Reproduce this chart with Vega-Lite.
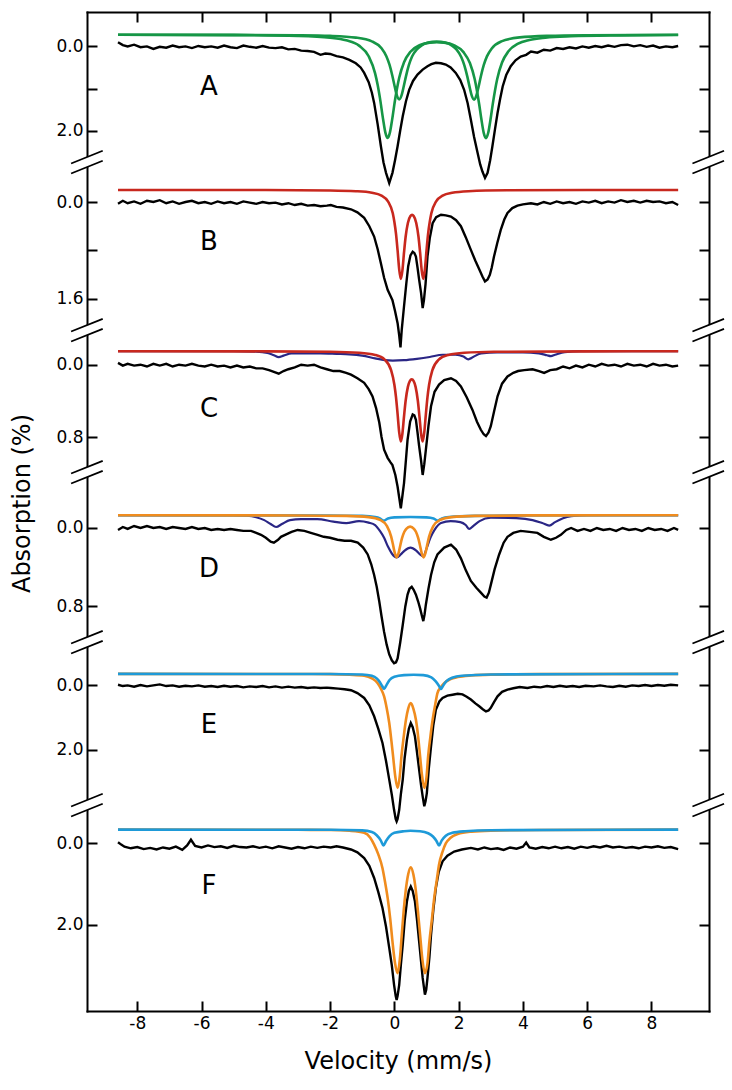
{
"$schema": "https://vega.github.io/schema/vega-lite/v6.json",
"background": "white",
"padding": {"left": 9, "top": 11, "right": 5, "bottom": 5},
"bounds": "flush",
"spacing": 0,
"config": {
  "view": {"stroke": null},
  "font": "DejaVu Sans",
  "axis": {"tickSize": -10, "tickWidth": 2, "domainWidth": 2, "domainColor": "#000", "tickColor": "#000", "domainCap": "square", "labelFont": "DejaVu Sans", "labelFontSize": 17, "labelColor": "#000", "labelPadding": 14, "titleFont": "DejaVu Sans", "titleFontSize": 24, "titleFontWeight": "normal", "titleColor": "#000", "grid": false, "labelFlush": false, "labelOverlap": false}
},
"datasets": {
"Ad": [{"v":-8.6,"a":-0.1},{"v":-8.45,"a":-0.03},{"v":-8.3,"a":0.0},{"v":-8.1,"a":-0.04},{"v":-7.9,"a":0.02},{"v":-7.7,"a":0.0},{"v":-7.5,"a":0.06},{"v":-7.3,"a":0.01},{"v":-7.1,"a":0.03},{"v":-6.9,"a":-0.02},{"v":-6.7,"a":0.02},{"v":-6.5,"a":0.0},{"v":-6.3,"a":0.04},{"v":-6.1,"a":-0.01},{"v":-5.9,"a":0.02},{"v":-5.7,"a":0.0},{"v":-5.5,"a":0.03},{"v":-5.3,"a":-0.02},{"v":-5.1,"a":0.02},{"v":-4.9,"a":0.04},{"v":-4.7,"a":-0.02},{"v":-4.5,"a":0.01},{"v":-4.3,"a":0.03},{"v":-4.1,"a":-0.01},{"v":-3.9,"a":0.03},{"v":-3.7,"a":0.04},{"v":-3.5,"a":0.02},{"v":-3.3,"a":0.07},{"v":-3.1,"a":0.06},{"v":-2.9,"a":0.1},{"v":-2.7,"a":0.11},{"v":-2.5,"a":0.13},{"v":-2.3,"a":0.2},{"v":-2.15,"a":0.17},{"v":-2.0,"a":0.18},{"v":-1.8,"a":0.23},{"v":-1.6,"a":0.26},{"v":-1.4,"a":0.32},{"v":-1.2,"a":0.4},{"v":-1.05,"a":0.5},{"v":-0.94,"a":0.63},{"v":-0.8,"a":0.85},{"v":-0.7,"a":1.1},{"v":-0.63,"a":1.34},{"v":-0.52,"a":1.85},{"v":-0.42,"a":2.37},{"v":-0.34,"a":2.75},{"v":-0.26,"a":3.0},{"v":-0.16,"a":3.24},{"v":-0.06,"a":3.0},{"v":0.02,"a":2.7},{"v":0.1,"a":2.37},{"v":0.18,"a":2.0},{"v":0.26,"a":1.66},{"v":0.36,"a":1.3},{"v":0.46,"a":1.03},{"v":0.58,"a":0.82},{"v":0.72,"a":0.67},{"v":0.88,"a":0.55},{"v":1.03,"a":0.47},{"v":1.15,"a":0.42},{"v":1.29,"a":0.39},{"v":1.45,"a":0.4},{"v":1.6,"a":0.43},{"v":1.75,"a":0.5},{"v":1.91,"a":0.63},{"v":2.05,"a":0.8},{"v":2.17,"a":1.03},{"v":2.28,"a":1.35},{"v":2.38,"a":1.74},{"v":2.48,"a":2.15},{"v":2.59,"a":2.53},{"v":2.67,"a":2.8},{"v":2.74,"a":2.97},{"v":2.82,"a":3.12},{"v":2.9,"a":3.0},{"v":2.98,"a":2.7},{"v":3.05,"a":2.37},{"v":3.13,"a":1.97},{"v":3.21,"a":1.58},{"v":3.29,"a":1.25},{"v":3.37,"a":0.95},{"v":3.48,"a":0.68},{"v":3.62,"a":0.47},{"v":3.77,"a":0.33},{"v":3.93,"a":0.24},{"v":4.1,"a":0.2},{"v":4.25,"a":0.12},{"v":4.45,"a":0.15},{"v":4.65,"a":0.08},{"v":4.85,"a":0.1},{"v":5.05,"a":0.04},{"v":5.25,"a":0.06},{"v":5.45,"a":0.02},{"v":5.65,"a":0.05},{"v":5.85,"a":0.0},{"v":6.05,"a":0.03},{"v":6.25,"a":-0.01},{"v":6.45,"a":0.02},{"v":6.65,"a":-0.02},{"v":6.85,"a":0.01},{"v":7.05,"a":-0.03},{"v":7.25,"a":-0.04},{"v":7.45,"a":0.0},{"v":7.65,"a":-0.03},{"v":7.85,"a":0.01},{"v":8.05,"a":-0.02},{"v":8.25,"a":0.03},{"v":8.45,"a":0.0},{"v":8.65,"a":0.02},{"v":8.83,"a":-0.01}],
"Ag1": [{"v":-8.6,"a":-0.275},{"v":-5,"a":-0.267},{"v":-3,"a":-0.246},{"v":-2,"a":-0.205},{"v":-1.5,"a":-0.144},{"v":-1.1,"a":-0.018},{"v":-0.8,"a":0.235},{"v":-0.6,"a":0.641},{"v":-0.52,"a":0.915},{"v":-0.45,"a":1.222},{"v":-0.35,"a":1.735},{"v":-0.28,"a":2.046},{"v":-0.21,"a":2.172},{"v":-0.14,"a":2.047},{"v":-0.07,"a":1.738},{"v":0.03,"a":1.226},{"v":0.15,"a":0.742},{"v":0.3,"a":0.374},{"v":0.5,"a":0.127},{"v":0.8,"a":-0.032},{"v":1.1,"a":-0.09},{"v":1.32,"a":-0.1},{"v":1.55,"a":-0.089},{"v":1.85,"a":-0.03},{"v":2.15,"a":0.136},{"v":2.35,"a":0.396},{"v":2.5,"a":0.779},{"v":2.64,"a":1.379},{"v":2.71,"a":1.742},{"v":2.78,"a":2.051},{"v":2.85,"a":2.176},{"v":2.92,"a":2.05},{"v":2.99,"a":1.74},{"v":3.06,"a":1.375},{"v":3.2,"a":0.772},{"v":3.35,"a":0.384},{"v":3.55,"a":0.116},{"v":3.85,"a":-0.064},{"v":4.2,"a":-0.152},{"v":4.7,"a":-0.207},{"v":5.5,"a":-0.24},{"v":7,"a":-0.261},{"v":8.83,"a":-0.27}],
"Ag2": [{"v":-8.6,"a":-0.277},{"v":-5,"a":-0.273},{"v":-3,"a":-0.264},{"v":-2,"a":-0.249},{"v":-1.2,"a":-0.208},{"v":-0.7,"a":-0.12},{"v":-0.4,"a":0.045},{"v":-0.25,"a":0.233},{"v":-0.15,"a":0.441},{"v":-0.06,"a":0.707},{"v":0.01,"a":0.951},{"v":0.08,"a":1.167},{"v":0.15,"a":1.256},{"v":0.22,"a":1.168},{"v":0.29,"a":0.953},{"v":0.36,"a":0.711},{"v":0.45,"a":0.447},{"v":0.55,"a":0.241},{"v":0.7,"a":0.07},{"v":0.85,"a":-0.026},{"v":1.05,"a":-0.09},{"v":1.315,"a":-0.114},{"v":1.58,"a":-0.09},{"v":1.78,"a":-0.026},{"v":1.93,"a":0.07},{"v":2.08,"a":0.25},{"v":2.18,"a":0.455},{"v":2.27,"a":0.718},{"v":2.34,"a":0.96},{"v":2.41,"a":1.174},{"v":2.48,"a":1.262},{"v":2.55,"a":1.172},{"v":2.62,"a":0.956},{"v":2.69,"a":0.713},{"v":2.78,"a":0.446},{"v":2.88,"a":0.237},{"v":3.03,"a":0.048},{"v":3.33,"a":-0.119},{"v":3.9,"a":-0.214},{"v":4.8,"a":-0.252},{"v":6,"a":-0.266},{"v":8.83,"a":-0.275}],
"Bd": [{"v":-8.6,"a":0.03},{"v":-8.45,"a":-0.02},{"v":-8.3,"a":0.02},{"v":-8.1,"a":-0.01},{"v":-7.9,"a":0.03},{"v":-7.7,"a":-0.02},{"v":-7.5,"a":0.0},{"v":-7.3,"a":-0.03},{"v":-7.1,"a":0.02},{"v":-6.9,"a":-0.01},{"v":-6.7,"a":0.03},{"v":-6.5,"a":0.0},{"v":-6.3,"a":-0.02},{"v":-6.1,"a":0.02},{"v":-5.9,"a":0.0},{"v":-5.7,"a":0.03},{"v":-5.5,"a":-0.01},{"v":-5.3,"a":0.02},{"v":-5.1,"a":0.0},{"v":-4.9,"a":0.03},{"v":-4.7,"a":-0.01},{"v":-4.5,"a":0.01},{"v":-4.3,"a":0.03},{"v":-4.1,"a":0.0},{"v":-3.9,"a":0.02},{"v":-3.7,"a":0.01},{"v":-3.5,"a":0.04},{"v":-3.3,"a":0.02},{"v":-3.1,"a":0.05},{"v":-2.9,"a":0.03},{"v":-2.7,"a":0.06},{"v":-2.5,"a":0.05},{"v":-2.3,"a":0.07},{"v":-2.1,"a":0.06},{"v":-1.98,"a":0.05},{"v":-1.8,"a":0.08},{"v":-1.6,"a":0.09},{"v":-1.35,"a":0.12},{"v":-1.15,"a":0.17},{"v":-0.94,"a":0.26},{"v":-0.78,"a":0.4},{"v":-0.63,"a":0.57},{"v":-0.52,"a":0.78},{"v":-0.42,"a":1.01},{"v":-0.32,"a":1.25},{"v":-0.21,"a":1.45},{"v":-0.12,"a":1.55},{"v":-0.06,"a":1.62},{"v":0.02,"a":1.8},{"v":0.1,"a":2.0},{"v":0.15,"a":2.2},{"v":0.19,"a":2.4},{"v":0.23,"a":2.1},{"v":0.3,"a":1.72},{"v":0.37,"a":1.35},{"v":0.43,"a":1.06},{"v":0.5,"a":0.88},{"v":0.57,"a":0.82},{"v":0.62,"a":0.84},{"v":0.67,"a":0.9},{"v":0.72,"a":1.08},{"v":0.77,"a":1.28},{"v":0.83,"a":1.5},{"v":0.88,"a":1.75},{"v":0.92,"a":1.62},{"v":0.97,"a":1.35},{"v":1.03,"a":0.9},{"v":1.1,"a":0.6},{"v":1.19,"a":0.35},{"v":1.3,"a":0.25},{"v":1.45,"a":0.21},{"v":1.6,"a":0.22},{"v":1.76,"a":0.24},{"v":1.92,"a":0.3},{"v":2.07,"a":0.4},{"v":2.22,"a":0.58},{"v":2.38,"a":0.79},{"v":2.52,"a":0.97},{"v":2.64,"a":1.11},{"v":2.74,"a":1.23},{"v":2.82,"a":1.31},{"v":2.9,"a":1.28},{"v":2.97,"a":1.2},{"v":3.03,"a":1.08},{"v":3.1,"a":0.9},{"v":3.2,"a":0.68},{"v":3.31,"a":0.46},{"v":3.42,"a":0.29},{"v":3.52,"a":0.18},{"v":3.67,"a":0.1},{"v":3.83,"a":0.06},{"v":4.0,"a":0.04},{"v":4.25,"a":0.02},{"v":4.45,"a":0.04},{"v":4.65,"a":0.0},{"v":4.85,"a":0.03},{"v":5.05,"a":-0.01},{"v":5.25,"a":0.02},{"v":5.45,"a":0.0},{"v":5.65,"a":0.03},{"v":5.85,"a":-0.01},{"v":6.05,"a":0.01},{"v":6.25,"a":-0.02},{"v":6.45,"a":0.02},{"v":6.65,"a":-0.01},{"v":6.85,"a":0.01},{"v":7.05,"a":-0.03},{"v":7.25,"a":0.0},{"v":7.45,"a":-0.02},{"v":7.65,"a":0.01},{"v":7.85,"a":-0.02},{"v":8.05,"a":0.0},{"v":8.25,"a":-0.01},{"v":8.45,"a":0.02},{"v":8.65,"a":0.0},{"v":8.83,"a":0.05}],
"Br": [{"v":-8.6,"a":-0.199},{"v":-4,"a":-0.197},{"v":-2,"a":-0.19},{"v":-1.2,"a":-0.178},{"v":-0.7,"a":-0.153},{"v":-0.4,"a":-0.105},{"v":-0.2,"a":-0.012},{"v":-0.05,"a":0.187},{"v":0.0,"a":0.33},{"v":0.05,"a":0.521},{"v":0.1,"a":0.8},{"v":0.15,"a":1.111},{"v":0.2,"a":1.268},{"v":0.25,"a":1.127},{"v":0.3,"a":0.833},{"v":0.35,"a":0.573},{"v":0.42,"a":0.345},{"v":0.5,"a":0.231},{"v":0.55,"a":0.212},{"v":0.6,"a":0.231},{"v":0.68,"a":0.345},{"v":0.75,"a":0.573},{"v":0.8,"a":0.833},{"v":0.85,"a":1.127},{"v":0.9,"a":1.268},{"v":0.95,"a":1.111},{"v":1.0,"a":0.8},{"v":1.05,"a":0.521},{"v":1.1,"a":0.33},{"v":1.15,"a":0.187},{"v":1.3,"a":-0.012},{"v":1.5,"a":-0.105},{"v":1.8,"a":-0.153},{"v":2.3,"a":-0.178},{"v":3.5,"a":-0.193},{"v":6,"a":-0.198},{"v":8.83,"a":-0.199}],
"Cd": [{"v":-8.6,"a":-0.02},{"v":-8.45,"a":0.01},{"v":-8.3,"a":-0.01},{"v":-8.1,"a":0.01},{"v":-7.9,"a":0.0},{"v":-7.7,"a":0.02},{"v":-7.5,"a":-0.01},{"v":-7.3,"a":0.01},{"v":-7.1,"a":-0.01},{"v":-6.9,"a":0.02},{"v":-6.7,"a":0.0},{"v":-6.5,"a":0.01},{"v":-6.3,"a":-0.01},{"v":-6.1,"a":0.01},{"v":-5.9,"a":0.02},{"v":-5.7,"a":0.0},{"v":-5.5,"a":0.02},{"v":-5.3,"a":0.01},{"v":-5.1,"a":0.03},{"v":-4.9,"a":0.01},{"v":-4.7,"a":0.03},{"v":-4.5,"a":0.02},{"v":-4.3,"a":0.04},{"v":-4.1,"a":0.04},{"v":-3.9,"a":0.06},{"v":-3.75,"a":0.08},{"v":-3.6,"a":0.1},{"v":-3.45,"a":0.07},{"v":-3.3,"a":0.05},{"v":-3.1,"a":0.03},{"v":-2.9,"a":0.0},{"v":-2.7,"a":0.01},{"v":-2.5,"a":0.0},{"v":-2.3,"a":0.03},{"v":-2.1,"a":0.05},{"v":-1.9,"a":0.07},{"v":-1.7,"a":0.07},{"v":-1.5,"a":0.09},{"v":-1.35,"a":0.11},{"v":-1.15,"a":0.15},{"v":-0.94,"a":0.2},{"v":-0.8,"a":0.27},{"v":-0.68,"a":0.35},{"v":-0.57,"a":0.48},{"v":-0.47,"a":0.64},{"v":-0.4,"a":0.8},{"v":-0.32,"a":0.94},{"v":-0.21,"a":1.03},{"v":-0.12,"a":1.08},{"v":-0.06,"a":1.11},{"v":0.03,"a":1.22},{"v":0.1,"a":1.35},{"v":0.15,"a":1.47},{"v":0.2,"a":1.59},{"v":0.25,"a":1.45},{"v":0.3,"a":1.31},{"v":0.36,"a":1.05},{"v":0.41,"a":0.83},{"v":0.49,"a":0.63},{"v":0.57,"a":0.55},{"v":0.62,"a":0.56},{"v":0.67,"a":0.61},{"v":0.72,"a":0.75},{"v":0.77,"a":0.9},{"v":0.83,"a":1.06},{"v":0.88,"a":1.22},{"v":0.93,"a":1.1},{"v":0.98,"a":0.94},{"v":1.06,"a":0.68},{"v":1.14,"a":0.46},{"v":1.25,"a":0.3},{"v":1.39,"a":0.22},{"v":1.55,"a":0.17},{"v":1.76,"a":0.15},{"v":1.92,"a":0.18},{"v":2.07,"a":0.24},{"v":2.25,"a":0.36},{"v":2.43,"a":0.5},{"v":2.57,"a":0.63},{"v":2.69,"a":0.72},{"v":2.78,"a":0.77},{"v":2.85,"a":0.79},{"v":2.93,"a":0.75},{"v":3.0,"a":0.68},{"v":3.1,"a":0.52},{"v":3.21,"a":0.35},{"v":3.35,"a":0.21},{"v":3.52,"a":0.13},{"v":3.7,"a":0.09},{"v":3.85,"a":0.07},{"v":4.04,"a":0.06},{"v":4.3,"a":0.05},{"v":4.5,"a":0.07},{"v":4.66,"a":0.09},{"v":4.85,"a":0.06},{"v":5.05,"a":0.05},{"v":5.25,"a":0.02},{"v":5.45,"a":0.04},{"v":5.65,"a":0.01},{"v":5.85,"a":0.03},{"v":6.05,"a":0.0},{"v":6.25,"a":0.02},{"v":6.45,"a":-0.01},{"v":6.65,"a":0.01},{"v":6.85,"a":0.0},{"v":7.05,"a":0.02},{"v":7.25,"a":-0.01},{"v":7.45,"a":0.01},{"v":7.65,"a":0.0},{"v":7.85,"a":0.02},{"v":8.05,"a":-0.01},{"v":8.25,"a":0.01},{"v":8.45,"a":0.0},{"v":8.65,"a":0.02},{"v":8.83,"a":0.01}],
"Cr": [{"v":-8.6,"a":-0.149},{"v":-4,"a":-0.148},{"v":-2,"a":-0.143},{"v":-1.1,"a":-0.132},{"v":-0.6,"a":-0.108},{"v":-0.3,"a":-0.056},{"v":-0.1,"a":0.063},{"v":0.0,"a":0.221},{"v":0.05,"a":0.358},{"v":0.1,"a":0.546},{"v":0.15,"a":0.749},{"v":0.2,"a":0.85},{"v":0.25,"a":0.761},{"v":0.3,"a":0.572},{"v":0.35,"a":0.399},{"v":0.42,"a":0.245},{"v":0.48,"a":0.181},{"v":0.54,"a":0.162},{"v":0.6,"a":0.181},{"v":0.66,"a":0.245},{"v":0.73,"a":0.399},{"v":0.78,"a":0.572},{"v":0.83,"a":0.761},{"v":0.88,"a":0.85},{"v":0.93,"a":0.749},{"v":0.98,"a":0.546},{"v":1.03,"a":0.358},{"v":1.08,"a":0.221},{"v":1.18,"a":0.063},{"v":1.38,"a":-0.056},{"v":1.68,"a":-0.108},{"v":2.18,"a":-0.132},{"v":3.1,"a":-0.143},{"v":6,"a":-0.148},{"v":8.83,"a":-0.149}],
"Cn": [{"v":-8.6,"a":-0.15},{"v":-5,"a":-0.15},{"v":-4.3,"a":-0.145},{"v":-3.95,"a":-0.13},{"v":-3.75,"a":-0.105},{"v":-3.6,"a":-0.085},{"v":-3.45,"a":-0.1},{"v":-3.2,"a":-0.125},{"v":-2.8,"a":-0.125},{"v":-2.3,"a":-0.125},{"v":-1.8,"a":-0.12},{"v":-1.4,"a":-0.115},{"v":-1.0,"a":-0.1},{"v":-0.6,"a":-0.07},{"v":-0.3,"a":-0.05},{"v":-0.05,"a":-0.045},{"v":0.3,"a":-0.05},{"v":0.7,"a":-0.065},{"v":1.1,"a":-0.085},{"v":1.5,"a":-0.11},{"v":1.9,"a":-0.11},{"v":2.15,"a":-0.09},{"v":2.3,"a":-0.06},{"v":2.45,"a":-0.085},{"v":2.7,"a":-0.125},{"v":3.2,"a":-0.135},{"v":4.0,"a":-0.135},{"v":4.5,"a":-0.125},{"v":4.75,"a":-0.105},{"v":4.87,"a":-0.095},{"v":5.0,"a":-0.11},{"v":5.3,"a":-0.14},{"v":5.8,"a":-0.15},{"v":8.83,"a":-0.15}],
"Dd": [{"v":-8.6,"a":0.02},{"v":-8.45,"a":-0.01},{"v":-8.3,"a":0.01},{"v":-8.1,"a":-0.02},{"v":-7.9,"a":0.0},{"v":-7.7,"a":-0.02},{"v":-7.5,"a":0.0},{"v":-7.3,"a":-0.01},{"v":-7.1,"a":0.01},{"v":-6.9,"a":-0.01},{"v":-6.7,"a":0.0},{"v":-6.5,"a":0.01},{"v":-6.3,"a":-0.01},{"v":-6.1,"a":0.01},{"v":-5.9,"a":0.0},{"v":-5.7,"a":0.02},{"v":-5.5,"a":0.01},{"v":-5.3,"a":0.02},{"v":-5.1,"a":0.01},{"v":-4.9,"a":0.02},{"v":-4.7,"a":0.03},{"v":-4.46,"a":0.03},{"v":-4.3,"a":0.05},{"v":-4.15,"a":0.07},{"v":-4.0,"a":0.1},{"v":-3.85,"a":0.14},{"v":-3.75,"a":0.15},{"v":-3.62,"a":0.12},{"v":-3.53,"a":0.09},{"v":-3.4,"a":0.07},{"v":-3.2,"a":0.04},{"v":-3.01,"a":0.02},{"v":-2.8,"a":0.03},{"v":-2.6,"a":0.05},{"v":-2.39,"a":0.07},{"v":-2.2,"a":0.09},{"v":-2.0,"a":0.1},{"v":-1.77,"a":0.12},{"v":-1.55,"a":0.13},{"v":-1.35,"a":0.13},{"v":-1.14,"a":0.15},{"v":-0.97,"a":0.2},{"v":-0.83,"a":0.27},{"v":-0.72,"a":0.37},{"v":-0.63,"a":0.48},{"v":-0.55,"a":0.6},{"v":-0.47,"a":0.75},{"v":-0.4,"a":0.9},{"v":-0.32,"a":1.06},{"v":-0.24,"a":1.19},{"v":-0.16,"a":1.29},{"v":-0.08,"a":1.35},{"v":-0.01,"a":1.38},{"v":0.05,"a":1.37},{"v":0.1,"a":1.33},{"v":0.18,"a":1.17},{"v":0.26,"a":0.99},{"v":0.34,"a":0.8},{"v":0.41,"a":0.68},{"v":0.47,"a":0.62},{"v":0.54,"a":0.6},{"v":0.6,"a":0.63},{"v":0.67,"a":0.68},{"v":0.74,"a":0.75},{"v":0.8,"a":0.82},{"v":0.86,"a":0.9},{"v":0.9,"a":0.95},{"v":0.94,"a":0.88},{"v":0.98,"a":0.78},{"v":1.06,"a":0.62},{"v":1.14,"a":0.48},{"v":1.24,"a":0.35},{"v":1.34,"a":0.27},{"v":1.55,"a":0.2},{"v":1.76,"a":0.17},{"v":1.92,"a":0.22},{"v":2.07,"a":0.31},{"v":2.22,"a":0.43},{"v":2.38,"a":0.54},{"v":2.55,"a":0.61},{"v":2.69,"a":0.66},{"v":2.8,"a":0.7},{"v":2.87,"a":0.71},{"v":2.94,"a":0.66},{"v":3.0,"a":0.58},{"v":3.12,"a":0.42},{"v":3.26,"a":0.27},{"v":3.4,"a":0.15},{"v":3.52,"a":0.09},{"v":3.7,"a":0.05},{"v":3.93,"a":0.03},{"v":4.2,"a":0.04},{"v":4.45,"a":0.05},{"v":4.65,"a":0.09},{"v":4.87,"a":0.12},{"v":5.03,"a":0.1},{"v":5.18,"a":0.07},{"v":5.35,"a":0.02},{"v":5.5,"a":0.0},{"v":5.7,"a":0.03},{"v":5.9,"a":0.01},{"v":6.1,"a":0.03},{"v":6.3,"a":0.0},{"v":6.5,"a":0.02},{"v":6.7,"a":0.01},{"v":6.9,"a":0.03},{"v":7.1,"a":0.0},{"v":7.3,"a":0.02},{"v":7.5,"a":0.01},{"v":7.7,"a":0.03},{"v":7.9,"a":0.0},{"v":8.1,"a":0.02},{"v":8.3,"a":0.01},{"v":8.5,"a":0.03},{"v":8.7,"a":0.0},{"v":8.83,"a":0.02}],
"Do": [{"v":-8.6,"a":-0.13},{"v":-3,"a":-0.128},{"v":-1.5,"a":-0.123},{"v":-0.8,"a":-0.111},{"v":-0.43,"a":-0.08},{"v":-0.23,"a":-0.02},{"v":-0.1,"a":0.088},{"v":-0.05,"a":0.159},{"v":0.01,"a":0.252},{"v":0.07,"a":0.3},{"v":0.13,"a":0.257},{"v":0.19,"a":0.168},{"v":0.24,"a":0.102},{"v":0.31,"a":0.039},{"v":0.37,"a":0.008},{"v":0.49,"a":-0.014},{"v":0.61,"a":0.008},{"v":0.67,"a":0.039},{"v":0.74,"a":0.102},{"v":0.79,"a":0.168},{"v":0.85,"a":0.257},{"v":0.91,"a":0.3},{"v":0.97,"a":0.252},{"v":1.03,"a":0.159},{"v":1.08,"a":0.088},{"v":1.21,"a":-0.02},{"v":1.41,"a":-0.08},{"v":1.78,"a":-0.111},{"v":2.5,"a":-0.123},{"v":5,"a":-0.129},{"v":8.83,"a":-0.13}],
"Dc": [{"v":-8.6,"a":-0.13},{"v":-2,"a":-0.128},{"v":-1.0,"a":-0.123},{"v":-0.6,"a":-0.112},{"v":-0.45,"a":-0.098},{"v":-0.33,"a":-0.075},{"v":-0.2,"a":-0.097},{"v":0.0,"a":-0.108},{"v":0.5,"a":-0.112},{"v":1.0,"a":-0.108},{"v":1.22,"a":-0.097},{"v":1.35,"a":-0.075},{"v":1.48,"a":-0.098},{"v":1.7,"a":-0.112},{"v":2.5,"a":-0.123},{"v":4,"a":-0.128},{"v":8.83,"a":-0.13}],
"Dn": [{"v":-8.6,"a":-0.13},{"v":-5.0,"a":-0.13},{"v":-4.6,"a":-0.125},{"v":-4.3,"a":-0.11},{"v":-4.05,"a":-0.08},{"v":-3.85,"a":-0.04},{"v":-3.68,"a":-0.01},{"v":-3.5,"a":-0.04},{"v":-3.25,"a":-0.08},{"v":-2.9,"a":-0.09},{"v":-2.4,"a":-0.09},{"v":-1.9,"a":-0.065},{"v":-1.5,"a":-0.05},{"v":-1.1,"a":-0.07},{"v":-0.8,"a":-0.055},{"v":-0.6,"a":-0.03},{"v":-0.45,"a":0.03},{"v":-0.32,"a":0.1},{"v":-0.2,"a":0.19},{"v":-0.08,"a":0.26},{"v":0.07,"a":0.3},{"v":0.2,"a":0.27},{"v":0.32,"a":0.23},{"v":0.5,"a":0.2},{"v":0.68,"a":0.23},{"v":0.8,"a":0.27},{"v":0.9,"a":0.29},{"v":1.0,"a":0.21},{"v":1.12,"a":0.1},{"v":1.25,"a":0.02},{"v":1.45,"a":-0.05},{"v":1.75,"a":-0.07},{"v":2.05,"a":-0.06},{"v":2.22,"a":-0.03},{"v":2.33,"a":0.01},{"v":2.45,"a":-0.02},{"v":2.65,"a":-0.07},{"v":3.0,"a":-0.105},{"v":3.8,"a":-0.1},{"v":4.3,"a":-0.08},{"v":4.6,"a":-0.05},{"v":4.82,"a":-0.025},{"v":5.0,"a":-0.06},{"v":5.25,"a":-0.1},{"v":5.5,"a":-0.12},{"v":6.0,"a":-0.13},{"v":8.83,"a":-0.13}],
"Ed": [{"v":-8.6,"a":-0.02},{"v":-8.45,"a":0.02},{"v":-8.3,"a":0.0},{"v":-8.1,"a":0.04},{"v":-7.9,"a":-0.01},{"v":-7.7,"a":0.03},{"v":-7.5,"a":0.0},{"v":-7.3,"a":-0.03},{"v":-7.1,"a":0.02},{"v":-6.9,"a":0.0},{"v":-6.7,"a":0.04},{"v":-6.5,"a":0.01},{"v":-6.3,"a":0.03},{"v":-6.1,"a":0.0},{"v":-5.9,"a":0.04},{"v":-5.7,"a":0.02},{"v":-5.5,"a":0.05},{"v":-5.3,"a":0.01},{"v":-5.1,"a":0.04},{"v":-4.9,"a":0.02},{"v":-4.7,"a":0.06},{"v":-4.5,"a":0.03},{"v":-4.3,"a":0.05},{"v":-4.1,"a":0.02},{"v":-3.9,"a":0.06},{"v":-3.7,"a":0.03},{"v":-3.5,"a":0.07},{"v":-3.3,"a":0.04},{"v":-3.1,"a":0.07},{"v":-2.9,"a":0.05},{"v":-2.7,"a":0.08},{"v":-2.5,"a":0.06},{"v":-2.3,"a":0.08},{"v":-2.1,"a":0.07},{"v":-1.98,"a":0.08},{"v":-1.75,"a":0.1},{"v":-1.55,"a":0.12},{"v":-1.35,"a":0.15},{"v":-1.15,"a":0.24},{"v":-0.94,"a":0.39},{"v":-0.78,"a":0.62},{"v":-0.63,"a":0.96},{"v":-0.5,"a":1.35},{"v":-0.37,"a":1.79},{"v":-0.26,"a":2.35},{"v":-0.16,"a":2.93},{"v":-0.08,"a":3.4},{"v":-0.01,"a":3.87},{"v":0.04,"a":4.15},{"v":0.07,"a":4.23},{"v":0.1,"a":4.15},{"v":0.15,"a":3.87},{"v":0.2,"a":3.4},{"v":0.26,"a":2.93},{"v":0.32,"a":2.25},{"v":0.39,"a":1.69},{"v":0.45,"a":1.35},{"v":0.51,"a":1.17},{"v":0.57,"a":1.3},{"v":0.64,"a":1.59},{"v":0.7,"a":2.05},{"v":0.77,"a":2.62},{"v":0.83,"a":3.1},{"v":0.88,"a":3.45},{"v":0.93,"a":3.76},{"v":0.97,"a":3.6},{"v":1.01,"a":3.35},{"v":1.07,"a":2.6},{"v":1.14,"a":1.9},{"v":1.21,"a":1.25},{"v":1.29,"a":0.76},{"v":1.4,"a":0.5},{"v":1.5,"a":0.39},{"v":1.65,"a":0.32},{"v":1.81,"a":0.29},{"v":1.97,"a":0.26},{"v":2.12,"a":0.28},{"v":2.25,"a":0.35},{"v":2.38,"a":0.44},{"v":2.52,"a":0.56},{"v":2.64,"a":0.65},{"v":2.75,"a":0.74},{"v":2.85,"a":0.81},{"v":2.93,"a":0.78},{"v":3.0,"a":0.7},{"v":3.1,"a":0.52},{"v":3.21,"a":0.34},{"v":3.35,"a":0.2},{"v":3.52,"a":0.13},{"v":3.7,"a":0.09},{"v":3.9,"a":0.05},{"v":4.14,"a":0.08},{"v":4.35,"a":0.04},{"v":4.55,"a":0.06},{"v":4.75,"a":0.02},{"v":4.95,"a":0.05},{"v":5.15,"a":0.01},{"v":5.35,"a":0.04},{"v":5.55,"a":0.02},{"v":5.75,"a":0.05},{"v":5.95,"a":0.01},{"v":6.2,"a":0.03},{"v":6.4,"a":0.0},{"v":6.6,"a":0.03},{"v":6.8,"a":0.05},{"v":7.0,"a":0.01},{"v":7.2,"a":0.04},{"v":7.4,"a":0.0},{"v":7.6,"a":0.02},{"v":7.8,"a":-0.01},{"v":8.0,"a":0.02},{"v":8.2,"a":-0.01},{"v":8.4,"a":0.01},{"v":8.6,"a":-0.02},{"v":8.83,"a":0.0}],
"Eo": [{"v":-8.6,"a":-0.36},{"v":-3,"a":-0.355},{"v":-1.98,"a":-0.35},{"v":-1.4,"a":-0.33},{"v":-0.94,"a":-0.3},{"v":-0.7,"a":-0.22},{"v":-0.52,"a":-0.07},{"v":-0.4,"a":0.14},{"v":-0.32,"a":0.34},{"v":-0.24,"a":0.7},{"v":-0.16,"a":1.17},{"v":-0.09,"a":1.75},{"v":-0.04,"a":2.21},{"v":0.03,"a":2.85},{"v":0.1,"a":3.19},{"v":0.17,"a":2.8},{"v":0.22,"a":2.21},{"v":0.29,"a":1.6},{"v":0.36,"a":1.07},{"v":0.43,"a":0.72},{"v":0.51,"a":0.55},{"v":0.59,"a":0.72},{"v":0.67,"a":1.07},{"v":0.74,"a":1.6},{"v":0.8,"a":2.21},{"v":0.86,"a":2.8},{"v":0.93,"a":3.19},{"v":1.0,"a":2.85},{"v":1.05,"a":2.21},{"v":1.12,"a":1.6},{"v":1.19,"a":1.07},{"v":1.27,"a":0.6},{"v":1.34,"a":0.24},{"v":1.45,"a":0.05},{"v":1.55,"a":-0.07},{"v":1.75,"a":-0.2},{"v":1.97,"a":-0.26},{"v":2.4,"a":-0.31},{"v":3.0,"a":-0.335},{"v":4.5,"a":-0.35},{"v":8.83,"a":-0.36}],
"Ec": [{"v":-8.6,"a":-0.36},{"v":-2,"a":-0.355},{"v":-1.0,"a":-0.34},{"v":-0.7,"a":-0.3},{"v":-0.55,"a":-0.22},{"v":-0.45,"a":-0.1},{"v":-0.38,"a":0.02},{"v":-0.32,"a":0.11},{"v":-0.25,"a":0.0},{"v":-0.15,"a":-0.17},{"v":0.0,"a":-0.27},{"v":0.3,"a":-0.32},{"v":0.6,"a":-0.33},{"v":0.9,"a":-0.32},{"v":1.15,"a":-0.25},{"v":1.28,"a":-0.13},{"v":1.38,"a":0.0},{"v":1.45,"a":0.11},{"v":1.52,"a":0.0},{"v":1.62,"a":-0.13},{"v":1.8,"a":-0.24},{"v":2.1,"a":-0.3},{"v":3,"a":-0.34},{"v":8.83,"a":-0.36}],
"Fd": [{"v":-8.6,"a":-0.03},{"v":-8.5,"a":0.03},{"v":-8.4,"a":0.08},{"v":-8.2,"a":0.12},{"v":-8.0,"a":0.09},{"v":-7.8,"a":0.14},{"v":-7.6,"a":0.11},{"v":-7.4,"a":0.15},{"v":-7.2,"a":0.1},{"v":-7.0,"a":0.13},{"v":-6.8,"a":0.08},{"v":-6.6,"a":0.16},{"v":-6.45,"a":0.05},{"v":-6.33,"a":-0.09},{"v":-6.2,"a":0.06},{"v":-6.0,"a":0.1},{"v":-5.8,"a":0.05},{"v":-5.6,"a":0.09},{"v":-5.4,"a":0.07},{"v":-5.2,"a":0.11},{"v":-5.0,"a":0.06},{"v":-4.8,"a":0.09},{"v":-4.6,"a":0.1},{"v":-4.4,"a":0.07},{"v":-4.2,"a":0.11},{"v":-4.0,"a":0.08},{"v":-3.8,"a":0.12},{"v":-3.6,"a":0.07},{"v":-3.4,"a":0.1},{"v":-3.2,"a":0.13},{"v":-3.0,"a":0.09},{"v":-2.8,"a":0.12},{"v":-2.6,"a":0.08},{"v":-2.4,"a":0.11},{"v":-2.2,"a":0.08},{"v":-1.98,"a":0.1},{"v":-1.8,"a":0.07},{"v":-1.6,"a":0.1},{"v":-1.35,"a":0.15},{"v":-1.15,"a":0.22},{"v":-0.94,"a":0.36},{"v":-0.78,"a":0.55},{"v":-0.63,"a":0.85},{"v":-0.5,"a":1.2},{"v":-0.37,"a":1.59},{"v":-0.26,"a":2.05},{"v":-0.16,"a":2.57},{"v":-0.08,"a":3.0},{"v":-0.01,"a":3.48},{"v":0.04,"a":3.75},{"v":0.07,"a":3.85},{"v":0.1,"a":3.75},{"v":0.15,"a":3.48},{"v":0.2,"a":3.0},{"v":0.26,"a":2.49},{"v":0.32,"a":1.9},{"v":0.39,"a":1.43},{"v":0.45,"a":1.17},{"v":0.51,"a":1.06},{"v":0.57,"a":1.17},{"v":0.64,"a":1.43},{"v":0.7,"a":1.85},{"v":0.77,"a":2.41},{"v":0.83,"a":2.9},{"v":0.88,"a":3.31},{"v":0.95,"a":3.72},{"v":0.99,"a":3.6},{"v":1.03,"a":3.31},{"v":1.09,"a":2.8},{"v":1.14,"a":2.25},{"v":1.21,"a":1.65},{"v":1.29,"a":1.1},{"v":1.38,"a":0.7},{"v":1.5,"a":0.44},{"v":1.65,"a":0.3},{"v":1.86,"a":0.2},{"v":2.1,"a":0.15},{"v":2.38,"a":0.11},{"v":2.6,"a":0.15},{"v":2.8,"a":0.1},{"v":3.0,"a":0.14},{"v":3.21,"a":0.12},{"v":3.4,"a":0.16},{"v":3.6,"a":0.1},{"v":3.8,"a":0.13},{"v":4.0,"a":0.08},{"v":4.1,"a":-0.02},{"v":4.2,"a":0.1},{"v":4.4,"a":0.13},{"v":4.6,"a":0.09},{"v":4.8,"a":0.12},{"v":5.0,"a":0.08},{"v":5.2,"a":0.12},{"v":5.4,"a":0.09},{"v":5.6,"a":0.13},{"v":5.8,"a":0.08},{"v":6.0,"a":0.11},{"v":6.2,"a":0.07},{"v":6.4,"a":0.1},{"v":6.6,"a":0.06},{"v":6.8,"a":0.1},{"v":7.0,"a":0.08},{"v":7.2,"a":0.11},{"v":7.4,"a":0.09},{"v":7.6,"a":0.12},{"v":7.8,"a":0.08},{"v":8.0,"a":0.1},{"v":8.2,"a":0.07},{"v":8.4,"a":0.11},{"v":8.6,"a":0.09},{"v":8.83,"a":0.14}],
"Fo": [{"v":-8.6,"a":-0.34},{"v":-3,"a":-0.335},{"v":-1.98,"a":-0.33},{"v":-1.4,"a":-0.31},{"v":-0.94,"a":-0.26},{"v":-0.75,"a":-0.14},{"v":-0.63,"a":0.03},{"v":-0.5,"a":0.27},{"v":-0.37,"a":0.61},{"v":-0.29,"a":0.95},{"v":-0.21,"a":1.34},{"v":-0.13,"a":1.85},{"v":-0.06,"a":2.41},{"v":0.02,"a":2.95},{"v":0.1,"a":3.19},{"v":0.17,"a":2.85},{"v":0.23,"a":2.25},{"v":0.29,"a":1.65},{"v":0.35,"a":1.18},{"v":0.43,"a":0.76},{"v":0.51,"a":0.59},{"v":0.59,"a":0.76},{"v":0.67,"a":1.18},{"v":0.73,"a":1.65},{"v":0.8,"a":2.25},{"v":0.87,"a":2.85},{"v":0.95,"a":3.19},{"v":1.03,"a":2.95},{"v":1.09,"a":2.41},{"v":1.17,"a":1.85},{"v":1.24,"a":1.34},{"v":1.32,"a":0.9},{"v":1.39,"a":0.52},{"v":1.5,"a":0.2},{"v":1.6,"a":0.0},{"v":1.75,"a":-0.14},{"v":1.97,"a":-0.23},{"v":2.4,"a":-0.29},{"v":3.0,"a":-0.315},{"v":4.5,"a":-0.33},{"v":8.83,"a":-0.34}],
"Fc": [{"v":-8.6,"a":-0.34},{"v":-2,"a":-0.335},{"v":-1.0,"a":-0.32},{"v":-0.7,"a":-0.28},{"v":-0.55,"a":-0.2},{"v":-0.42,"a":-0.07},{"v":-0.34,"a":0.05},{"v":-0.26,"a":-0.06},{"v":-0.15,"a":-0.18},{"v":0.0,"a":-0.26},{"v":0.3,"a":-0.3},{"v":0.5,"a":-0.31},{"v":0.8,"a":-0.3},{"v":1.05,"a":-0.25},{"v":1.2,"a":-0.17},{"v":1.31,"a":-0.06},{"v":1.39,"a":0.05},{"v":1.47,"a":-0.07},{"v":1.6,"a":-0.19},{"v":1.8,"a":-0.26},{"v":2.2,"a":-0.3},{"v":3,"a":-0.325},{"v":8.83,"a":-0.34}]
},
"vconcat": [
{
 "width": 622, "height": 150,
 "resolve": {"axis": {"x": "independent", "y": "independent"}},
 "layer": [
  {"data": {"name": "Ad"}, "mark": {"type": "line", "color": "#000", "strokeWidth": 2.4},
   "encoding": {
    "x": {"field": "v", "type": "quantitative", "scale": {"domain": [-9.565, 9.79], "nice": false, "zero": false}, "axis": {"orient": "top", "values": [-8,-6,-4,-2,0,2,4,6,8], "labels": false, "title": null}},
    "y": {"field": "a", "type": "quantitative", "scale": {"domain": [-0.816, 2.743], "nice": false, "zero": false, "reverse": true}, "axis": {"orient": "left", "values": [0,1,2], "labelExpr": "datum.value == 1 ? '' : format(datum.value, '.1f')", "title": null}}
   }},
  {"data": {"name": "Ag1"}, "mark": {"type": "line", "color": "#169646", "strokeWidth": 2.6, "interpolate": "monotone"},
   "encoding": {"x": {"field": "v", "type": "quantitative", "scale": {"domain": [-9.565, 9.79], "nice": false, "zero": false}, "axis": null}, "y": {"field": "a", "type": "quantitative", "scale": {"domain": [-0.816, 2.743], "nice": false, "zero": false, "reverse": true}, "axis": null}}},
  {"data": {"name": "Ag2"}, "mark": {"type": "line", "color": "#169646", "strokeWidth": 2.6, "interpolate": "monotone"},
   "encoding": {"x": {"field": "v", "type": "quantitative", "scale": {"domain": [-9.565, 9.79], "nice": false, "zero": false}, "axis": null}, "y": {"field": "a", "type": "quantitative", "scale": {"domain": [-0.816, 2.743], "nice": false, "zero": false, "reverse": true}, "axis": null}}},
  {"data": {"values": [{}]}, "mark": {"type": "text", "text": "A", "fontSize": 26, "font": "DejaVu Sans", "color": "#000", "baseline": "middle", "align": "center"},
   "encoding": {
    "x": {"datum": -5.77, "type": "quantitative", "scale": {"domain": [-9.565, 9.79], "nice": false, "zero": false}, "axis": null},
    "y": {"datum": 0.956, "type": "quantitative", "scale": {"domain": [-0.816, 2.743], "nice": false, "zero": false, "reverse": true}, "axis": {"orient": "right", "values": [0,1,2], "labels": false, "title": null}}
   }}
 ]
},
{
 "width": 622, "height": 168,
 "resolve": {"axis": {"x": "independent", "y": "independent"}},
 "layer": [
  {"data": {"name": "Bd"}, "mark": {"type": "line", "color": "#000", "strokeWidth": 2.4},
   "encoding": {
    "x": {"field": "v", "type": "quantitative", "scale": {"domain": [-9.565, 9.79], "nice": false, "zero": false}, "axis": null},
    "y": {"field": "a", "type": "quantitative", "scale": {"domain": [-0.66, 2.112], "nice": false, "zero": false, "reverse": true}, "axis": {"orient": "left", "values": [0,0.8,1.6], "labelExpr": "datum.value == 0.8 ? '' : format(datum.value, '.1f')", "title": null}}
   }},
  {"data": {"name": "Br"}, "mark": {"type": "line", "color": "#c8281e", "strokeWidth": 2.6, "interpolate": "monotone"},
   "encoding": {"x": {"field": "v", "type": "quantitative", "scale": {"domain": [-9.565, 9.79], "nice": false, "zero": false}, "axis": null}, "y": {"field": "a", "type": "quantitative", "scale": {"domain": [-0.66, 2.112], "nice": false, "zero": false, "reverse": true}, "axis": null}}},
  {"data": {"values": [{}]}, "mark": {"type": "text", "text": "B", "fontSize": 26, "font": "DejaVu Sans", "color": "#000", "baseline": "middle", "align": "center"},
   "encoding": {
    "x": {"datum": -5.77, "type": "quantitative", "scale": {"domain": [-9.565, 9.79], "nice": false, "zero": false}, "axis": null},
    "y": {"datum": 0.663, "type": "quantitative", "scale": {"domain": [-0.66, 2.112], "nice": false, "zero": false, "reverse": true}, "axis": {"orient": "right", "values": [0,0.8,1.6], "labels": false, "title": null}}
   }},
  {"data": {"values": [{}]}, "mark": {"type": "rule", "color": "white", "strokeWidth": 6},
   "encoding": {"x": {"datum": -9.565, "type": "quantitative", "axis": null}, "y": {"datum": -0.743, "type": "quantitative", "axis": null}, "y2": {"datum": -0.578}}},
  {"data": {"values": [{}]}, "mark": {"type": "rule", "color": "white", "strokeWidth": 6},
   "encoding": {"x": {"datum": 9.79, "type": "quantitative", "axis": null}, "y": {"datum": -0.743, "type": "quantitative", "axis": null}, "y2": {"datum": -0.578}}},
  {"data": {"values": [{}]}, "mark": {"type": "rule", "color": "#000", "strokeWidth": 1.8},
   "encoding": {"x": {"datum": -10.06, "type": "quantitative", "axis": null}, "x2": {"datum": -9.076}, "y": {"datum": -0.635, "type": "quantitative", "axis": null}, "y2": {"datum": -0.845}}},
  {"data": {"values": [{}]}, "mark": {"type": "rule", "color": "#000", "strokeWidth": 1.8},
   "encoding": {"x": {"datum": -10.06, "type": "quantitative", "axis": null}, "x2": {"datum": -9.076}, "y": {"datum": -0.47, "type": "quantitative", "axis": null}, "y2": {"datum": -0.68}}},
  {"data": {"values": [{}]}, "mark": {"type": "rule", "color": "#000", "strokeWidth": 1.8},
   "encoding": {"x": {"datum": 9.275, "type": "quantitative", "axis": null}, "x2": {"datum": 10.258}, "y": {"datum": -0.635, "type": "quantitative", "axis": null}, "y2": {"datum": -0.845}}},
  {"data": {"values": [{}]}, "mark": {"type": "rule", "color": "#000", "strokeWidth": 1.8},
   "encoding": {"x": {"datum": 9.275, "type": "quantitative", "axis": null}, "x2": {"datum": 10.258}, "y": {"datum": -0.47, "type": "quantitative", "axis": null}, "y2": {"datum": -0.68}}}
 ]
},
{
 "width": 622, "height": 142,
 "resolve": {"axis": {"x": "independent", "y": "independent"}},
 "layer": [
  {"data": {"name": "Cd"}, "mark": {"type": "line", "color": "#000", "strokeWidth": 2.4},
   "encoding": {
    "x": {"field": "v", "type": "quantitative", "scale": {"domain": [-9.565, 9.79], "nice": false, "zero": false}, "axis": null},
    "y": {"field": "a", "type": "quantitative", "scale": {"domain": [-0.384, 1.187], "nice": false, "zero": false, "reverse": true}, "axis": {"orient": "left", "values": [0,0.8], "format": ".1f", "title": null}}
   }},
  {"data": {"name": "Cn"}, "mark": {"type": "line", "color": "#2a2685", "strokeWidth": 2.2, "interpolate": "monotone"},
   "encoding": {"x": {"field": "v", "type": "quantitative", "scale": {"domain": [-9.565, 9.79], "nice": false, "zero": false}, "axis": null}, "y": {"field": "a", "type": "quantitative", "scale": {"domain": [-0.384, 1.187], "nice": false, "zero": false, "reverse": true}, "axis": null}}},
  {"data": {"name": "Cr"}, "mark": {"type": "line", "color": "#c8281e", "strokeWidth": 2.6, "interpolate": "monotone"},
   "encoding": {"x": {"field": "v", "type": "quantitative", "scale": {"domain": [-9.565, 9.79], "nice": false, "zero": false}, "axis": null}, "y": {"field": "a", "type": "quantitative", "scale": {"domain": [-0.384, 1.187], "nice": false, "zero": false, "reverse": true}, "axis": null}}},
  {"data": {"values": [{}]}, "mark": {"type": "text", "text": "C", "fontSize": 26, "font": "DejaVu Sans", "color": "#000", "baseline": "middle", "align": "center"},
   "encoding": {
    "x": {"datum": -5.77, "type": "quantitative", "scale": {"domain": [-9.565, 9.79], "nice": false, "zero": false}, "axis": null},
    "y": {"datum": 0.487, "type": "quantitative", "scale": {"domain": [-0.384, 1.187], "nice": false, "zero": false, "reverse": true}, "axis": {"orient": "right", "values": [0,0.8], "labels": false, "title": null}}
   }},
  {"data": {"values": [{}]}, "mark": {"type": "rule", "color": "white", "strokeWidth": 6},
   "encoding": {"x": {"datum": -9.565, "type": "quantitative", "axis": null}, "y": {"datum": -0.439, "type": "quantitative", "axis": null}, "y2": {"datum": -0.329}}},
  {"data": {"values": [{}]}, "mark": {"type": "rule", "color": "white", "strokeWidth": 6},
   "encoding": {"x": {"datum": 9.79, "type": "quantitative", "axis": null}, "y": {"datum": -0.439, "type": "quantitative", "axis": null}, "y2": {"datum": -0.329}}},
  {"data": {"values": [{}]}, "mark": {"type": "rule", "color": "#000", "strokeWidth": 1.8},
   "encoding": {"x": {"datum": -10.06, "type": "quantitative", "axis": null}, "x2": {"datum": -9.076}, "y": {"datum": -0.367, "type": "quantitative", "axis": null}, "y2": {"datum": -0.508}}},
  {"data": {"values": [{}]}, "mark": {"type": "rule", "color": "#000", "strokeWidth": 1.8},
   "encoding": {"x": {"datum": -10.06, "type": "quantitative", "axis": null}, "x2": {"datum": -9.076}, "y": {"datum": -0.257, "type": "quantitative", "axis": null}, "y2": {"datum": -0.397}}},
  {"data": {"values": [{}]}, "mark": {"type": "rule", "color": "#000", "strokeWidth": 1.8},
   "encoding": {"x": {"datum": 9.275, "type": "quantitative", "axis": null}, "x2": {"datum": 10.258}, "y": {"datum": -0.367, "type": "quantitative", "axis": null}, "y2": {"datum": -0.508}}},
  {"data": {"values": [{}]}, "mark": {"type": "rule", "color": "#000", "strokeWidth": 1.8},
   "encoding": {"x": {"datum": 9.275, "type": "quantitative", "axis": null}, "x2": {"datum": 10.258}, "y": {"datum": -0.257, "type": "quantitative", "axis": null}, "y2": {"datum": -0.397}}}
 ]
},
{
 "width": 622, "height": 170,
 "resolve": {"axis": {"x": "independent", "y": "independent"}},
 "layer": [
  {"data": {"name": "Dd"}, "mark": {"type": "line", "color": "#000", "strokeWidth": 2.4},
   "encoding": {
    "x": {"field": "v", "type": "quantitative", "scale": {"domain": [-9.565, 9.79], "nice": false, "zero": false}, "axis": null},
    "y": {"field": "a", "type": "quantitative", "scale": {"domain": [-0.571, 1.163], "nice": false, "zero": false, "reverse": true}, "axis": {"orient": "left", "values": [0,0.8], "format": ".1f", "title": "Absorption (%)", "titleX": -53, "titleY": 31}}
   }},
  {"data": {"name": "Dn"}, "mark": {"type": "line", "color": "#2a2685", "strokeWidth": 2.2, "interpolate": "monotone"},
   "encoding": {"x": {"field": "v", "type": "quantitative", "scale": {"domain": [-9.565, 9.79], "nice": false, "zero": false}, "axis": null}, "y": {"field": "a", "type": "quantitative", "scale": {"domain": [-0.571, 1.163], "nice": false, "zero": false, "reverse": true}, "axis": null}}},
  {"data": {"name": "Dc"}, "mark": {"type": "line", "color": "#1e9ad8", "strokeWidth": 2.6, "interpolate": "monotone"},
   "encoding": {"x": {"field": "v", "type": "quantitative", "scale": {"domain": [-9.565, 9.79], "nice": false, "zero": false}, "axis": null}, "y": {"field": "a", "type": "quantitative", "scale": {"domain": [-0.571, 1.163], "nice": false, "zero": false, "reverse": true}, "axis": null}}},
  {"data": {"name": "Do"}, "mark": {"type": "line", "color": "#f08c1e", "strokeWidth": 2.6, "interpolate": "monotone"},
   "encoding": {"x": {"field": "v", "type": "quantitative", "scale": {"domain": [-9.565, 9.79], "nice": false, "zero": false}, "axis": null}, "y": {"field": "a", "type": "quantitative", "scale": {"domain": [-0.571, 1.163], "nice": false, "zero": false, "reverse": true}, "axis": null}}},
  {"data": {"values": [{}]}, "mark": {"type": "text", "text": "D", "fontSize": 26, "font": "DejaVu Sans", "color": "#000", "baseline": "middle", "align": "center"},
   "encoding": {
    "x": {"datum": -5.77, "type": "quantitative", "scale": {"domain": [-9.565, 9.79], "nice": false, "zero": false}, "axis": null},
    "y": {"datum": 0.415, "type": "quantitative", "scale": {"domain": [-0.571, 1.163], "nice": false, "zero": false, "reverse": true}, "axis": {"orient": "right", "values": [0,0.8], "labels": false, "title": null}}
   }},
  {"data": {"values": [{}]}, "mark": {"type": "rule", "color": "white", "strokeWidth": 6},
   "encoding": {"x": {"datum": -9.565, "type": "quantitative", "axis": null}, "y": {"datum": -0.622, "type": "quantitative", "axis": null}, "y2": {"datum": -0.52}}},
  {"data": {"values": [{}]}, "mark": {"type": "rule", "color": "white", "strokeWidth": 6},
   "encoding": {"x": {"datum": 9.79, "type": "quantitative", "axis": null}, "y": {"datum": -0.622, "type": "quantitative", "axis": null}, "y2": {"datum": -0.52}}},
  {"data": {"values": [{}]}, "mark": {"type": "rule", "color": "#000", "strokeWidth": 1.8},
   "encoding": {"x": {"datum": -10.06, "type": "quantitative", "axis": null}, "x2": {"datum": -9.076}, "y": {"datum": -0.556, "type": "quantitative", "axis": null}, "y2": {"datum": -0.685}}},
  {"data": {"values": [{}]}, "mark": {"type": "rule", "color": "#000", "strokeWidth": 1.8},
   "encoding": {"x": {"datum": -10.06, "type": "quantitative", "axis": null}, "x2": {"datum": -9.076}, "y": {"datum": -0.454, "type": "quantitative", "axis": null}, "y2": {"datum": -0.583}}},
  {"data": {"values": [{}]}, "mark": {"type": "rule", "color": "#000", "strokeWidth": 1.8},
   "encoding": {"x": {"datum": 9.275, "type": "quantitative", "axis": null}, "x2": {"datum": 10.258}, "y": {"datum": -0.556, "type": "quantitative", "axis": null}, "y2": {"datum": -0.685}}},
  {"data": {"values": [{}]}, "mark": {"type": "rule", "color": "#000", "strokeWidth": 1.8},
   "encoding": {"x": {"datum": 9.275, "type": "quantitative", "axis": null}, "x2": {"datum": 10.258}, "y": {"datum": -0.454, "type": "quantitative", "axis": null}, "y2": {"datum": -0.583}}}
 ]
},
{
 "width": 622, "height": 163,
 "resolve": {"axis": {"x": "independent", "y": "independent"}},
 "layer": [
  {"data": {"name": "Ed"}, "mark": {"type": "line", "color": "#000", "strokeWidth": 2.4},
   "encoding": {
    "x": {"field": "v", "type": "quantitative", "scale": {"domain": [-9.565, 9.79], "nice": false, "zero": false}, "axis": null},
    "y": {"field": "a", "type": "quantitative", "scale": {"domain": [-1.35, 3.72], "nice": false, "zero": false, "reverse": true}, "axis": {"orient": "left", "values": [0,2], "format": ".1f", "title": null}}
   }},
  {"data": {"name": "Eo"}, "mark": {"type": "line", "color": "#f08c1e", "strokeWidth": 2.6, "interpolate": "monotone"},
   "encoding": {"x": {"field": "v", "type": "quantitative", "scale": {"domain": [-9.565, 9.79], "nice": false, "zero": false}, "axis": null}, "y": {"field": "a", "type": "quantitative", "scale": {"domain": [-1.35, 3.72], "nice": false, "zero": false, "reverse": true}, "axis": null}}},
  {"data": {"name": "Ec"}, "mark": {"type": "line", "color": "#1e9ad8", "strokeWidth": 2.6, "interpolate": "monotone"},
   "encoding": {"x": {"field": "v", "type": "quantitative", "scale": {"domain": [-9.565, 9.79], "nice": false, "zero": false}, "axis": null}, "y": {"field": "a", "type": "quantitative", "scale": {"domain": [-1.35, 3.72], "nice": false, "zero": false, "reverse": true}, "axis": null}}},
  {"data": {"values": [{}]}, "mark": {"type": "text", "text": "E", "fontSize": 26, "font": "DejaVu Sans", "color": "#000", "baseline": "middle", "align": "center"},
   "encoding": {
    "x": {"datum": -5.77, "type": "quantitative", "scale": {"domain": [-9.565, 9.79], "nice": false, "zero": false}, "axis": null},
    "y": {"datum": 1.222, "type": "quantitative", "scale": {"domain": [-1.35, 3.72], "nice": false, "zero": false, "reverse": true}, "axis": {"orient": "right", "values": [0,2], "labels": false, "title": null}}
   }},
  {"data": {"values": [{}]}, "mark": {"type": "rule", "color": "white", "strokeWidth": 6},
   "encoding": {"x": {"datum": -9.565, "type": "quantitative", "axis": null}, "y": {"datum": -1.506, "type": "quantitative", "axis": null}, "y2": {"datum": -1.195}}},
  {"data": {"values": [{}]}, "mark": {"type": "rule", "color": "white", "strokeWidth": 6},
   "encoding": {"x": {"datum": 9.79, "type": "quantitative", "axis": null}, "y": {"datum": -1.506, "type": "quantitative", "axis": null}, "y2": {"datum": -1.195}}},
  {"data": {"values": [{}]}, "mark": {"type": "rule", "color": "#000", "strokeWidth": 1.8},
   "encoding": {"x": {"datum": -10.06, "type": "quantitative", "axis": null}, "x2": {"datum": -9.076}, "y": {"datum": -1.303, "type": "quantitative", "axis": null}, "y2": {"datum": -1.698}}},
  {"data": {"values": [{}]}, "mark": {"type": "rule", "color": "#000", "strokeWidth": 1.8},
   "encoding": {"x": {"datum": -10.06, "type": "quantitative", "axis": null}, "x2": {"datum": -9.076}, "y": {"datum": -0.992, "type": "quantitative", "axis": null}, "y2": {"datum": -1.387}}},
  {"data": {"values": [{}]}, "mark": {"type": "rule", "color": "#000", "strokeWidth": 1.8},
   "encoding": {"x": {"datum": 9.275, "type": "quantitative", "axis": null}, "x2": {"datum": 10.258}, "y": {"datum": -1.303, "type": "quantitative", "axis": null}, "y2": {"datum": -1.698}}},
  {"data": {"values": [{}]}, "mark": {"type": "rule", "color": "#000", "strokeWidth": 1.8},
   "encoding": {"x": {"datum": 9.275, "type": "quantitative", "axis": null}, "x2": {"datum": 10.258}, "y": {"datum": -0.992, "type": "quantitative", "axis": null}, "y2": {"datum": -1.387}}}
 ]
},
{
 "width": 622, "height": 206,
 "resolve": {"axis": {"x": "independent", "y": "independent"}},
 "layer": [
  {"data": {"name": "Fd"}, "mark": {"type": "line", "color": "#000", "strokeWidth": 2.4},
   "encoding": {
    "x": {"field": "v", "type": "quantitative", "scale": {"domain": [-9.565, 9.79], "nice": false, "zero": false}, "axis": {"orient": "bottom", "values": [-8,-6,-4,-2,0,2,4,6,8], "labelExpr": "'' + datum.value", "title": "Velocity (mm/s)", "titlePadding": 18}},
    "y": {"field": "a", "type": "quantitative", "scale": {"domain": [-0.945, 4.123], "nice": false, "zero": false, "reverse": true}, "axis": {"orient": "left", "values": [0,2], "format": ".1f", "title": null}}
   }},
  {"data": {"name": "Fo"}, "mark": {"type": "line", "color": "#f08c1e", "strokeWidth": 2.6, "interpolate": "monotone"},
   "encoding": {"x": {"field": "v", "type": "quantitative", "scale": {"domain": [-9.565, 9.79], "nice": false, "zero": false}, "axis": null}, "y": {"field": "a", "type": "quantitative", "scale": {"domain": [-0.945, 4.123], "nice": false, "zero": false, "reverse": true}, "axis": null}}},
  {"data": {"name": "Fc"}, "mark": {"type": "line", "color": "#1e9ad8", "strokeWidth": 2.6, "interpolate": "monotone"},
   "encoding": {"x": {"field": "v", "type": "quantitative", "scale": {"domain": [-9.565, 9.79], "nice": false, "zero": false}, "axis": null}, "y": {"field": "a", "type": "quantitative", "scale": {"domain": [-0.945, 4.123], "nice": false, "zero": false, "reverse": true}, "axis": null}}},
  {"data": {"values": [{}]}, "mark": {"type": "text", "text": "F", "fontSize": 26, "font": "DejaVu Sans", "color": "#000", "baseline": "middle", "align": "center"},
   "encoding": {
    "x": {"datum": -5.77, "type": "quantitative", "scale": {"domain": [-9.565, 9.79], "nice": false, "zero": false}, "axis": null},
    "y": {"datum": 1.04, "type": "quantitative", "scale": {"domain": [-0.945, 4.123], "nice": false, "zero": false, "reverse": true}, "axis": {"orient": "right", "values": [0,2], "labels": false, "title": null}}
   }},
  {"data": {"values": [{}]}, "mark": {"type": "rule", "color": "white", "strokeWidth": 6},
   "encoding": {"x": {"datum": -9.565, "type": "quantitative", "axis": null}, "y": {"datum": -1.068, "type": "quantitative", "axis": null}, "y2": {"datum": -0.822}}},
  {"data": {"values": [{}]}, "mark": {"type": "rule", "color": "white", "strokeWidth": 6},
   "encoding": {"x": {"datum": 9.79, "type": "quantitative", "axis": null}, "y": {"datum": -1.068, "type": "quantitative", "axis": null}, "y2": {"datum": -0.822}}},
  {"data": {"values": [{}]}, "mark": {"type": "rule", "color": "#000", "strokeWidth": 1.8},
   "encoding": {"x": {"datum": -10.06, "type": "quantitative", "axis": null}, "x2": {"datum": -9.076}, "y": {"datum": -0.908, "type": "quantitative", "axis": null}, "y2": {"datum": -1.221}}},
  {"data": {"values": [{}]}, "mark": {"type": "rule", "color": "#000", "strokeWidth": 1.8},
   "encoding": {"x": {"datum": -10.06, "type": "quantitative", "axis": null}, "x2": {"datum": -9.076}, "y": {"datum": -0.662, "type": "quantitative", "axis": null}, "y2": {"datum": -0.975}}},
  {"data": {"values": [{}]}, "mark": {"type": "rule", "color": "#000", "strokeWidth": 1.8},
   "encoding": {"x": {"datum": 9.275, "type": "quantitative", "axis": null}, "x2": {"datum": 10.258}, "y": {"datum": -0.908, "type": "quantitative", "axis": null}, "y2": {"datum": -1.221}}},
  {"data": {"values": [{}]}, "mark": {"type": "rule", "color": "#000", "strokeWidth": 1.8},
   "encoding": {"x": {"datum": 9.275, "type": "quantitative", "axis": null}, "x2": {"datum": 10.258}, "y": {"datum": -0.662, "type": "quantitative", "axis": null}, "y2": {"datum": -0.975}}}
 ]
}
]
}
